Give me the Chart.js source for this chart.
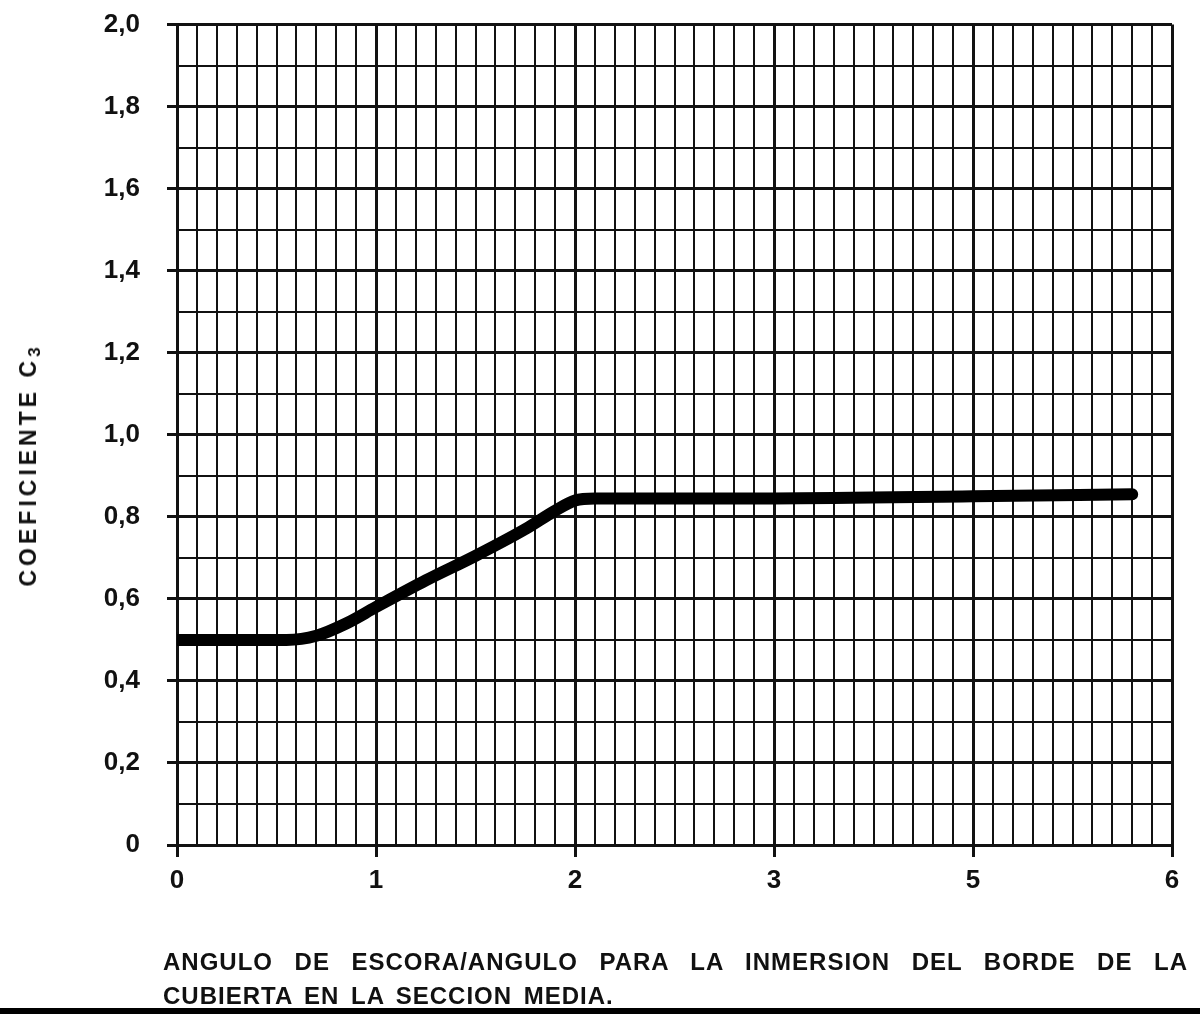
<!DOCTYPE html>
<html>
<head>
<meta charset="utf-8">
<script src="https://cdn.jsdelivr.net/npm/chart.js@4"></script>
<style>
  html, body { margin: 0; padding: 0; background: #fff; }
  #wrap { position: relative; width: 1200px; height: 1014px; overflow: hidden; }
  /* canvas sits higher so the plot box reaches close to the top edge */
  #chart { position: absolute; left: 0; top: -18px; }
  .ytitle {
    position: absolute; left: 30px; top: 467px;
    transform: translate(-50%, -50%) rotate(-90deg);
    font: bold 23px "Liberation Sans", Arial, sans-serif;
    letter-spacing: 4px; white-space: nowrap; color: #111;
  }
  .ytitle sub { font-size: 17px; vertical-align: -4px; letter-spacing: 0; }
  .caption {
    position: absolute; left: 163px; width: 1025px;
    font: bold 24px "Liberation Sans", Arial, sans-serif; color: #111;
    letter-spacing: 1px; white-space: nowrap;
  }
  #cap1 { top: 948px; text-align: justify; text-align-last: justify; }
  #cap2 { top: 982px; word-spacing: 4px; }
  #strip { position: absolute; left: 0; right: 0; top: 1008px; height: 6px; background: #000; }
</style>
</head>
<body>
<div id="wrap">
  <canvas id="chart" width="1200" height="1032"></canvas>
  <div class="ytitle">COEFICIENTE C<sub>3</sub></div>
  <div class="caption" id="cap1">ANGULO DE ESCORA/ANGULO PARA LA INMERSION DEL BORDE DE LA</div>
  <div class="caption" id="cap2">CUBIERTA EN LA SECCION MEDIA.</div>
  <div id="strip"></div>
</div>
<script>
// tick text printed under each whole unit of the x scale (0..5)
const xTickLabels = ['0', '1', '2', '3', '5', '6'];
// tick text printed at every 0,2 of the y scale
const yTickLabels = ['0', '0,2', '0,4', '0,6', '0,8', '1,0', '1,2', '1,4', '1,6', '1,8', '2,0'];

// coefficient C3 curve
const curveX = [0, 0.3, 0.55, 0.7, 0.85, 1.0, 1.25, 1.5, 1.75, 1.9, 2.0, 2.1, 3.0, 4.0, 4.8];
const curveY = [0.50, 0.50, 0.50, 0.51, 0.54, 0.58, 0.645, 0.705, 0.77, 0.815, 0.84, 0.845, 0.845, 0.85, 0.855];

const INK = '#111';
const TICK_FONT = { family: '"Liberation Sans", Arial, sans-serif', size: 26, weight: 'bold' };

const isMajorY = v => Math.round(v * 10) % 2 === 0;
const isWholeX = v => Math.abs(v - Math.round(v)) < 1e-6;

const points = curveX.map((x, i) => ({ x, y: curveY[i] }));

new Chart(document.getElementById('chart'), {
  type: 'line',
  data: {
    datasets: [{
      data: points,
      borderColor: '#000',
      borderWidth: 12,
      borderCapStyle: 'round',
      borderJoinStyle: 'round',
      pointRadius: 0,
      cubicInterpolationMode: 'monotone',
      fill: false
    }]
  },
  options: {
    responsive: false,
    animation: false,
    layout: { padding: { top: 14, right: 28, left: 0, bottom: 0 } },
    plugins: { legend: { display: false }, tooltip: { enabled: false } },
    scales: {
      x: {
        type: 'linear',
        min: 0, max: 5,
        afterFit: s => { s.height = 169; },
        border: { color: INK, width: 3 },
        grid: {
          color: INK,
          lineWidth: c => isWholeX(c.tick.value) ? 3 : 2,
          tickLength: 12,
          tickColor: c => isWholeX(c.tick.value) ? INK : 'rgba(0,0,0,0)',
          tickWidth: 3
        },
        ticks: {
          stepSize: 0.1,
          autoSkip: false,
          maxRotation: 0,
          padding: 8,
          color: INK,
          font: TICK_FONT,
          callback: v => isWholeX(v) ? xTickLabels[Math.round(v)] : ''
        }
      },
      y: {
        min: 0, max: 2,
        afterFit: s => { s.width = 177; },
        border: { color: INK, width: 3 },
        grid: {
          color: INK,
          lineWidth: c => isMajorY(c.tick.value) ? 3 : 2,
          tickLength: 10,
          tickColor: c => isMajorY(c.tick.value) ? INK : 'rgba(0,0,0,0)',
          tickWidth: 3
        },
        ticks: {
          stepSize: 0.1,
          autoSkip: false,
          padding: 27,
          color: INK,
          font: TICK_FONT,
          callback: v => isMajorY(v) ? yTickLabels[Math.round(v * 5)] : ''
        }
      }
    }
  }
});
</script>
</body>
</html>
